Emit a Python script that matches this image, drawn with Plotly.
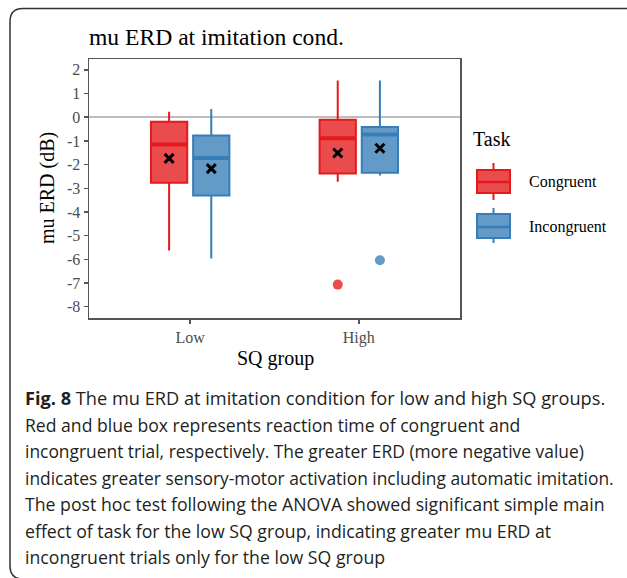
import plotly.graph_objects as go

# ---------------- data ----------------
groups = ["Low", "High"]
tasks = ["Congruent", "Incongruent"]

cong_lowerfence = [-5.63, -2.73]
cong_q1 = [-2.77, -2.38]
cong_median = [-1.15, -0.89]
cong_q3 = [-0.19, -0.11]
cong_upperfence = [0.23, 1.55]
cong_mean = [-1.74, -1.51]
cong_outliers = [[], [-7.07]]

incong_lowerfence = [-5.97, -2.46]
incong_q1 = [-3.31, -2.35]
incong_median = [-1.72, -0.73]
incong_q3 = [-0.77, -0.41]
incong_upperfence = [0.35, 1.55]
incong_mean = [-2.17, -1.31]
incong_outliers = [[], [-6.04]]

y_ticks = list(range(-8, 3))

caption_lines = [
    "<b>Fig. 8</b> The mu ERD at imitation condition for low and high SQ groups.",
    "Red and blue box represents reaction time of congruent and",
    "incongruent trial, respectively. The greater ERD (more negative value)",
    "indicates greater sensory-motor activation including automatic imitation.",
    "The post hoc test following the ANOVA showed significant simple main",
    "effect of task for the low SQ group, indicating greater mu ERD at",
    "incongruent trials only for the low SQ group",
]

# ---------------- style ----------------
W, H = 627, 578
ML, MR, MT, MB = 89, 167, 59, 260
PW, PH = W - ML - MR, H - MT - MB
SERIF = "Liberation Serif, Times New Roman, serif"
SANS = "Open Sans, Noto Sans, sans-serif"
line_col = {"Congruent": "#E41A1C", "Incongruent": "#377EB8"}
fill_col = {"Congruent": "rgba(228,26,28,0.78)", "Incongruent": "rgba(55,126,184,0.78)"}
dodge = {"Congruent": -0.125, "Incongruent": 0.125}
box_w = 0.215
tick_grey = "#4D4D4D"
caption_sizes = [18.2, 17.6, 17.4, 17.4, 17.7, 17.7, 17.7]


def px_x(px):
    return (px - ML) / PW


def px_y(py):
    return (MT + PH - py) / PH


stats = {
    "Congruent": dict(lf=cong_lowerfence, q1=cong_q1, med=cong_median, q3=cong_q3,
                      uf=cong_upperfence, mean=cong_mean, out=cong_outliers),
    "Incongruent": dict(lf=incong_lowerfence, q1=incong_q1, med=incong_median, q3=incong_q3,
                        uf=incong_upperfence, mean=incong_mean, out=incong_outliers),
}

fig = go.Figure()
for t in tasks:
    s = stats[t]
    xs = [i + dodge[t] for i in range(len(groups))]
    fig.add_trace(go.Box(
        x=xs, q1=s["q1"], median=s["med"], q3=s["q3"],
        lowerfence=s["lf"], upperfence=s["uf"],
        width=box_w, whiskerwidth=0, boxpoints=False,
        fillcolor=fill_col[t], line=dict(color=line_col[t], width=2),
        name=t, showlegend=False, hoverinfo="skip",
    ))
    # thicker median lines (ggplot fatten)
    mx, my = [], []
    for x, m in zip(xs, s["med"]):
        mx += [x - box_w / 2, x + box_w / 2, None]
        my += [m, m, None]
    fig.add_trace(go.Scatter(x=mx, y=my, mode="lines",
                             line=dict(color=line_col[t], width=4),
                             showlegend=False, hoverinfo="skip"))
    # outliers
    ox, oy = [], []
    for i, outs in enumerate(s["out"]):
        for o in outs:
            ox.append(i + dodge[t])
            oy.append(o)
    fig.add_trace(go.Scatter(x=ox, y=oy, mode="markers",
                             marker=dict(color=fill_col[t], size=10, line=dict(width=0)),
                             showlegend=False, hoverinfo="skip"))
    # means
    fig.add_trace(go.Scatter(x=xs, y=s["mean"], mode="markers",
                             marker=dict(symbol="x-thin", size=9, color="black",
                                         line=dict(color="black", width=3)),
                             showlegend=False, hoverinfo="skip"))

fig.update_xaxes(
    range=[-0.6, 1.6], tickvals=list(range(len(groups))), ticktext=groups,
    showline=True, mirror=True, linecolor="#555555", linewidth=1.5,
    ticks="outside", ticklen=4, tickwidth=1.5, tickcolor="#555555",
    tickfont=dict(family=SERIF, size=16, color=tick_grey),
    showgrid=False, zeroline=False,
)
fig.update_yaxes(
    range=[-8.48, 2.46], tickvals=y_ticks, ticktext=[str(v) for v in y_ticks],
    showline=True, mirror=True, linecolor="#555555", linewidth=1.5,
    ticks="outside", ticklen=4, tickwidth=1.5, tickcolor="#555555",
    tickfont=dict(family=SERIF, size=16, color=tick_grey),
    showgrid=False, zeroline=True, zerolinecolor="#BDBDBD", zerolinewidth=1.5,
)

annotations = [
    dict(text="mu ERD at imitation cond.", x=px_x(87), y=px_y(37), xanchor="left", yanchor="middle",
         font=dict(family=SERIF, size=23.6, color="black")),
    dict(text="mu ERD (dB)", x=px_x(47), y=px_y(188), textangle=-90, xanchor="center", yanchor="middle",
         font=dict(family=SERIF, size=20, color="black")),
    dict(text="SQ group", x=px_x(275), y=px_y(358), xanchor="center", yanchor="middle",
         font=dict(family=SERIF, size=20, color="black")),
    dict(text="Task", x=px_x(471), y=px_y(139), xanchor="left", yanchor="middle",
         font=dict(family=SERIF, size=20, color="black")),
]

shapes = []
# custom legend keys
legend_keys = [
    ("Congruent", 163, 200, 170, 193, 182),
    ("Incongruent", 208, 243, 214, 238, 227),
]
for t, wy0, wy1, ry0, ry1, my in legend_keys:
    cx = 493.5
    shapes.append(dict(type="line", xref="paper", yref="paper",
                       x0=px_x(cx), x1=px_x(cx), y0=px_y(wy0), y1=px_y(wy1),
                       line=dict(color=line_col[t], width=2)))
    shapes.append(dict(type="rect", xref="paper", yref="paper",
                       x0=px_x(477), x1=px_x(510), y0=px_y(ry0), y1=px_y(ry1),
                       fillcolor="white", line=dict(width=0)))
    shapes.append(dict(type="rect", xref="paper", yref="paper",
                       x0=px_x(477), x1=px_x(510), y0=px_y(ry0), y1=px_y(ry1),
                       fillcolor=fill_col[t], line=dict(color=line_col[t], width=2)))
    shapes.append(dict(type="line", xref="paper", yref="paper",
                       x0=px_x(477), x1=px_x(510), y0=px_y(my), y1=px_y(my),
                       line=dict(color=line_col[t], width=2.5)))
    annotations.append(dict(text=t, x=px_x(527), y=px_y(my), xanchor="left", yanchor="middle",
                            font=dict(family=SERIF, size=16, color="black")))

# caption
cap_y0, cap_dy = 398, 26.5
for k, line in enumerate(caption_lines):
    annotations.append(dict(text=line, x=px_x(23), y=px_y(cap_y0 + k * cap_dy),
                            xanchor="left", yanchor="middle",
                            font=dict(family=SANS, size=caption_sizes[k], color="#231F20")))

# rounded frame around the figure
L, T, R, B, r = 10, 8.5, 640, 579, 13
path = (
    f"M {px_x(L + r)},{px_y(T)} L {px_x(R - r)},{px_y(T)} "
    f"Q {px_x(R)},{px_y(T)} {px_x(R)},{px_y(T + r)} "
    f"L {px_x(R)},{px_y(B - r)} Q {px_x(R)},{px_y(B)} {px_x(R - r)},{px_y(B)} "
    f"L {px_x(L + r)},{px_y(B)} Q {px_x(L)},{px_y(B)} {px_x(L)},{px_y(B - r)} "
    f"L {px_x(L)},{px_y(T + r)} Q {px_x(L)},{px_y(T)} {px_x(L + r)},{px_y(T)} Z"
)
shapes.append(dict(type="path", xref="paper", yref="paper", path=path,
                   line=dict(color="#333333", width=1.5), fillcolor="rgba(0,0,0,0)"))

for a in annotations:
    a.update(xref="paper", yref="paper", showarrow=False)

fig.update_layout(
    width=W, height=H, margin=dict(l=ML, r=MR, t=MT, b=MB),
    paper_bgcolor="white", plot_bgcolor="white",
    showlegend=False, annotations=annotations, shapes=shapes,
)

fig.write_html(
    "out.html",
    config={"displayModeBar": False, "staticPlot": True},
    post_script="document.body.style.margin='0';document.body.style.overflow='hidden';",
)
